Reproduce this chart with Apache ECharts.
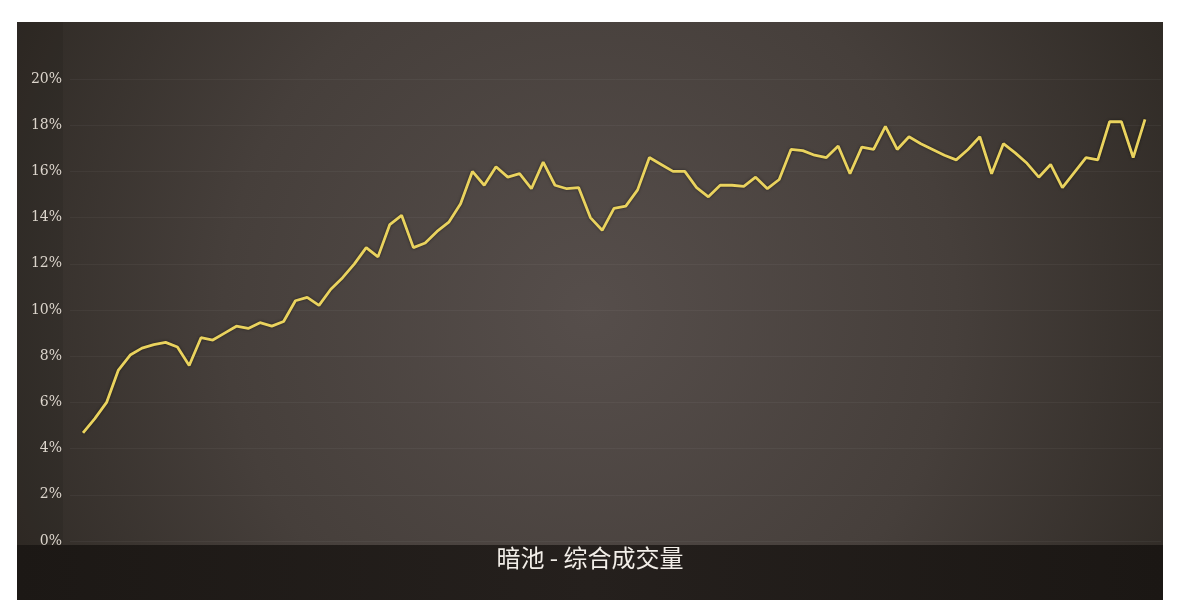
<!DOCTYPE html>
<html>
<head>
<meta charset="utf-8">
<script src="https://cdn.jsdelivr.net/npm/echarts@6/dist/echarts.min.js"></script>
<style>
html,body{margin:0;padding:0;background:#ffffff;}
#chart{width:1181px;height:616px;}
</style>
</head>
<body>
<div id="chart"></div>
<script>
// Data (percent values), one point per period
const periods = Array.from({length: 91}, (_, i) => String(i + 1));
const darkPoolShare = [
  4.68, 5.3, 6.0, 7.4, 8.05, 8.35, 8.5, 8.6, 8.4, 7.6,
  8.8, 8.7, 9.0, 9.3, 9.2, 9.45, 9.3, 9.5, 10.4, 10.55,
  10.2, 10.9, 11.4, 12.0, 12.7, 12.3, 13.7, 14.1, 12.7, 12.9,
  13.4, 13.8, 14.6, 16.0, 15.4, 16.2, 15.75, 15.9, 15.25, 16.4,
  15.4, 15.25, 15.3, 14.0, 13.45, 14.4, 14.5, 15.2, 16.6, 16.3,
  16.0, 16.0, 15.3, 14.9, 15.4, 15.4, 15.35, 15.75, 15.25, 15.65,
  16.95, 16.9, 16.7, 16.6, 17.1, 15.9, 17.05, 16.95, 17.95, 16.95,
  17.5, 17.2, 16.95, 16.7, 16.5, 16.95, 17.5, 15.9, 17.2, 16.8,
  16.35, 15.75, 16.3, 15.3, 15.95, 16.6, 16.5, 18.15, 18.15, 16.6,
  18.25
];
const yTicks = { min: 0, max: 20, interval: 2 };
const chartTitle = '暗池 - 综合成交量';

const chart = echarts.init(document.getElementById('chart'));
const BOX = { x: 17, y: 22, w: 1146, h: 578 };
const BAND = { y: 545, h: 55 };

chart.setOption({
  backgroundColor: '#ffffff',
  animation: false,
  graphic: [
    {
      type: 'rect', z: -100,
      shape: { x: BOX.x, y: BOX.y, width: BOX.w, height: BOX.h },
      style: {
        fill: {
          type: 'radial', x: 0.5, y: 0.5, r: 1.15,
          colorStops: [
            { offset: 0, color: '#564e4b' },
            { offset: 0.55, color: '#463f3b' },
            { offset: 1, color: '#2e2924' }
          ]
        }
      }
    },
    {
      type: 'rect', z: -99,
      shape: { x: BOX.x, y: BOX.y, width: 46, height: BAND.y - BOX.y },
      style: { fill: 'rgba(0,0,0,0.08)' }
    },
    {
      type: 'rect', z: -98,
      shape: { x: BOX.x, y: BAND.y, width: BOX.w, height: BAND.h },
      style: {
        fill: {
          type: 'linear', x: 0, y: 0, x2: 1, y2: 0,
          colorStops: [
            { offset: 0, color: '#1c1815' },
            { offset: 0.5, color: '#25201d' },
            { offset: 1, color: '#1b1714' }
          ]
        }
      }
    },
    {
      type: 'text', z: 10,
      x: 590, y: 558,
      style: {
        text: chartTitle,
        fill: '#f2eee8',
        font: '24px "Noto Sans CJK SC", sans-serif',
        textAlign: 'center',
        textVerticalAlign: 'middle'
      }
    }
  ],
  grid: [
    { left: 70, right: 20, top: 79, bottom: 75, containLabel: false },
    { left: 83, right: 36, top: 79, bottom: 75, containLabel: false }
  ],
  xAxis: [
    { gridIndex: 0, type: 'category', data: periods, show: false },
    { gridIndex: 1, type: 'category', data: periods, boundaryGap: false, show: false }
  ],
  yAxis: [
    {
      gridIndex: 0, type: 'value', min: yTicks.min, max: yTicks.max, interval: yTicks.interval,
      axisLine: { show: false }, axisTick: { show: false },
      axisLabel: {
        formatter: '{value}%', color: '#dcd5cc', fontSize: 14,
        fontFamily: '"DejaVu Serif", "Liberation Serif", serif', margin: 8
      },
      splitLine: { lineStyle: { color: 'rgba(255,255,255,0.045)', width: 1 } }
    },
    {
      gridIndex: 1, type: 'value', min: yTicks.min, max: yTicks.max, interval: yTicks.interval,
      show: false, splitLine: { show: false }
    }
  ],
  series: [
    {
      type: 'line', xAxisIndex: 1, yAxisIndex: 1,
      data: darkPoolShare, symbol: 'none', smooth: false,
      lineStyle: {
        color: '#ead35e', width: 2.8,
        shadowColor: 'rgba(0,0,0,0.5)', shadowBlur: 3
      },
      z: 5
    }
  ]
});
</script>
</body>
</html>
